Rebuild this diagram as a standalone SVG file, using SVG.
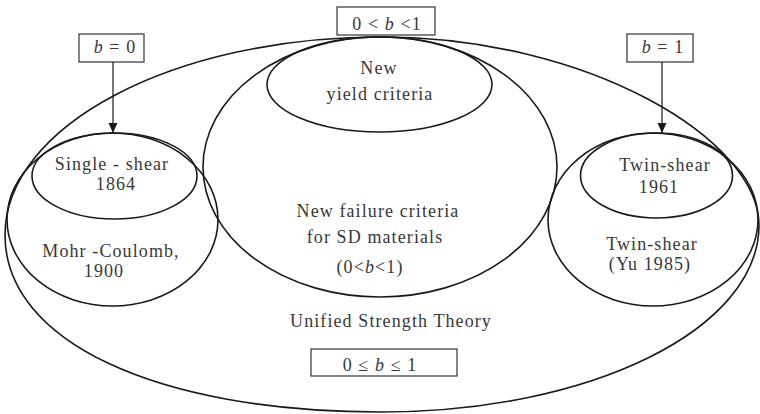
<svg xmlns="http://www.w3.org/2000/svg" width="760" height="414" viewBox="0 0 760 414">
<defs>
<style>
.e{fill:none;stroke:#1a1a1a;stroke-width:1.6}
.b{fill:#fff;stroke:#333;stroke-width:1.2}
.t{font-family:"Liberation Serif","Times New Roman",serif;font-size:18px;fill:#383838;text-anchor:middle;letter-spacing:1.1px}
.i{font-style:italic}
.c{stroke:#1a1a1a;stroke-width:1.2;fill:none}
</style>
<marker id="ah" markerWidth="10" markerHeight="12" refX="10" refY="6" orient="auto" markerUnits="userSpaceOnUse">
<path d="M0,1.5 L10,6 L0,10.5 Z" fill="#1a1a1a"/>
</marker>
</defs>
<rect width="760" height="414" fill="#fff"/>
<g id="unified">
<path class="e" d="M5,235 C5,125.7 173.4,37 381,37 C589.7,37 759,140.4 759,225 C759,329.7 590,412 381,412 C155.4,412 5,341.2 5,235 Z"/>
<text class="t" x="391" y="327">Unified Strength Theory</text>
</g>
<g id="sd-materials">
<ellipse class="e" cx="380" cy="167" rx="177" ry="130"/>
<text class="t" x="378" y="217">New failure criteria</text>
<text class="t" x="375" y="243">for SD materials</text>
<text class="t" x="370" y="273">(0&lt;<tspan class="i">b</tspan>&lt;1)</text>
</g>
<g id="new-yield">
<ellipse class="e" cx="379.5" cy="84.5" rx="112.5" ry="47.5"/>
<text class="t" x="379" y="74">New</text>
<text class="t" x="380" y="100">yield criteria</text>
</g>
<g id="mohr-coulomb">
<ellipse class="e" cx="112.5" cy="219.5" rx="105.5" ry="86.5"/>
<text class="t" x="111" y="257">Mohr -Coulomb,</text>
<text class="t" x="104" y="277">1900</text>
</g>
<g id="single-shear">
<ellipse class="e" cx="114.5" cy="176" rx="82.5" ry="43"/>
<text class="t" x="112" y="170">Single - shear</text>
<text class="t" x="116" y="190">1864</text>
</g>
<g id="twin-shear-yu">
<ellipse class="e" cx="653" cy="219.5" rx="105" ry="86.5"/>
<text class="t" x="652" y="250">Twin-shear</text>
<text class="t" x="650" y="270">(Yu 1985)</text>
</g>
<g id="twin-shear-1961">
<ellipse class="e" cx="656.5" cy="175.5" rx="76" ry="42.5"/>
<text class="t" x="665" y="171">Twin-shear</text>
<text class="t" x="659" y="193">1961</text>
</g>
<g id="box-mid">
<rect class="b" x="337" y="7" width="98" height="28"/>
<text class="t" x="387" y="30">0 &lt; <tspan class="i">b</tspan> &lt;1</text>
</g>
<g id="box-b0">
<rect class="b" x="79" y="34" width="65" height="28"/>
<text class="t" x="115" y="53"><tspan class="i">b</tspan> = 0</text>
</g>
<g id="box-b1">
<rect class="b" x="627" y="34" width="66" height="28"/>
<text class="t" x="663" y="53"><tspan class="i">b</tspan> = 1</text>
</g>
<g id="box-range">
<rect class="b" x="311" y="349" width="146" height="27"/>
<text class="t" x="380" y="371">0 ≤ <tspan class="i">b</tspan> ≤ 1</text>
</g>
<g id="connectors">
<line class="c" x1="113" y1="62" x2="113" y2="133" marker-end="url(#ah)"/>
<line class="c" x1="662" y1="62" x2="662" y2="133" marker-end="url(#ah)"/>
</g>
</svg>
